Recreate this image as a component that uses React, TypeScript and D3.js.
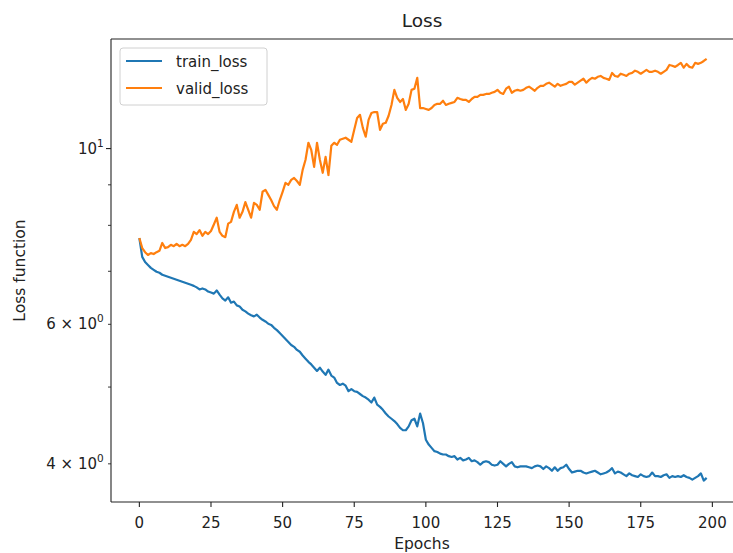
import React from 'react';
import * as d3 from 'd3';

// values (epochs 0..198)
const trainLoss = [
  7.71, 7.30, 7.19, 7.13, 7.07, 7.03, 6.99, 6.97, 6.93, 6.91,
  6.89, 6.87, 6.85, 6.83, 6.81, 6.79, 6.77, 6.75, 6.73, 6.71,
  6.68, 6.64, 6.66, 6.64, 6.60, 6.58, 6.56, 6.62, 6.54, 6.47,
  6.43, 6.49, 6.39, 6.41, 6.34, 6.32, 6.26, 6.23, 6.19, 6.16,
  6.14, 6.17, 6.12, 6.08, 6.05, 6.01, 5.99, 5.94, 5.90, 5.85,
  5.80, 5.75, 5.70, 5.65, 5.62, 5.57, 5.54, 5.48, 5.43, 5.38,
  5.34, 5.29, 5.24, 5.29, 5.23, 5.18, 5.26, 5.17, 5.14, 5.06,
  5.03, 5.05, 5.02, 4.94, 4.97, 4.94, 4.93, 4.90, 4.87, 4.85,
  4.82, 4.78, 4.85, 4.75, 4.72, 4.68, 4.63, 4.59, 4.56, 4.53,
  4.49, 4.44, 4.41, 4.41, 4.46, 4.54, 4.56, 4.46, 4.63, 4.50,
  4.29, 4.23, 4.19, 4.15, 4.14, 4.12, 4.11, 4.11, 4.09, 4.08,
  4.09, 4.05, 4.07, 4.04, 4.05, 4.07, 4.03, 4.04, 4.02, 3.99,
  4.02, 4.03, 4.02, 3.99, 3.98, 3.99, 4.03, 4.00, 3.97, 4.00,
  4.02, 3.97, 3.96, 3.97, 3.97, 3.97, 3.96, 3.95, 3.97, 3.98,
  3.97, 3.94, 3.97, 3.95, 3.92, 3.96, 3.92, 3.95, 3.96, 3.99,
  3.94, 3.90, 3.91, 3.92, 3.92, 3.90, 3.89, 3.90, 3.91, 3.92,
  3.90, 3.88, 3.89, 3.90, 3.92, 3.95, 3.89, 3.91, 3.90, 3.88,
  3.86, 3.89, 3.87, 3.86, 3.85, 3.88, 3.86, 3.85, 3.86, 3.90,
  3.86, 3.86, 3.85, 3.87, 3.88, 3.84, 3.86, 3.85, 3.86, 3.85,
  3.87, 3.85, 3.84, 3.82, 3.84, 3.86, 3.89, 3.81, 3.84,
];

const validLoss = [
  7.71, 7.49, 7.40, 7.34, 7.38, 7.36, 7.40, 7.43, 7.60, 7.49,
  7.51, 7.56, 7.53, 7.58, 7.53, 7.56, 7.53, 7.58, 7.67, 7.85,
  7.80, 7.89, 7.76, 7.85, 7.80, 7.87, 8.02, 8.18, 7.85, 7.76,
  7.73, 8.04, 8.08, 8.32, 8.49, 8.18, 8.32, 8.56, 8.37, 8.18,
  8.54, 8.49, 8.37, 8.82, 8.87, 8.74, 8.61, 8.46, 8.37, 8.61,
  8.82, 9.05, 9.00, 9.13, 9.18, 9.10, 9.00, 9.40, 9.68, 10.17,
  9.96, 9.48, 10.17, 9.68, 9.32, 9.76, 9.26, 10.08, 10.17, 10.11,
  10.26, 10.29, 10.32, 10.26, 10.20, 10.56, 10.93, 11.03, 10.62, 10.35,
  10.87, 11.09, 11.12, 11.12, 10.56, 10.75, 10.78, 11.00, 11.35, 11.86,
  11.59, 11.45, 11.55, 11.19, 11.39, 11.86, 11.90, 12.28, 11.25, 11.25,
  11.22, 11.19, 11.25, 11.35, 11.39, 11.39, 11.49, 11.35, 11.39, 11.42,
  11.45, 11.59, 11.55, 11.52, 11.52, 11.45, 11.55, 11.62, 11.62, 11.69,
  11.69, 11.72, 11.72, 11.76, 11.79, 11.86, 11.76, 11.72, 11.90, 11.97,
  11.76, 11.83, 11.86, 11.83, 11.86, 11.93, 11.97, 11.90, 11.83, 11.93,
  12.00, 12.00, 12.07, 12.11, 12.04, 11.97, 12.07, 12.00, 12.04, 12.07,
  12.14, 12.14, 12.04, 12.11, 12.18, 12.25, 12.11, 12.21, 12.28, 12.25,
  12.32, 12.35, 12.28, 12.25, 12.21, 12.46, 12.35, 12.32, 12.43, 12.39,
  12.35, 12.43, 12.46, 12.54, 12.50, 12.43, 12.50, 12.57, 12.50, 12.50,
  12.54, 12.50, 12.43, 12.50, 12.57, 12.75, 12.72, 12.68, 12.75, 12.83,
  12.65, 12.79, 12.68, 12.65, 12.83, 12.79, 12.83, 12.90, 12.98,
];

const seriesNames = ['train_loss', 'valid_loss'];
const seriesColors = ['#1f77b4', '#ff7f0e'];
const xTicks = [0, 25, 50, 75, 100, 125, 150, 175, 200];
const yMajorTicks = [10];
const yMinorTicks = [4, 5, 6, 7, 8, 9];
const yMinorLabels = [4, 6];

const W = 733;
const H = 553;
const FONT = 'DejaVu Sans, sans-serif';

export default function App() {
  const n = trainLoss.length;
  const pad = (n - 1) * 0.05;
  // right spine falls just past the picture's edge, as in the reference crop
  const x = d3.scaleLinear().domain([-pad, n - 1 + pad]).range([111, 735]);
  const y = d3.scaleLog().domain([3.58, 13.75]).range([502, 39]);

  const line = d3.line<number>()
    .x((_, i) => x(i))
    .y(d => y(d));

  const left = x.range()[0];
  const right = x.range()[1];
  const top = y.range()[1];
  const bottom = y.range()[0];

  return (
    <svg width={W} height={H} style={{ position: 'absolute', left: 0, top: 0, background: '#fff' }} fontFamily={FONT}>
      <rect width={W} height={H} fill="#fff" />

      {[trainLoss, validLoss].map((s, k) => (
        <path key={k} d={line(s) || ''} fill="none" stroke={seriesColors[k]} strokeWidth={2.2} strokeLinejoin="round" />
      ))}

      {/* spines */}
      <line x1={left} x2={left} y1={top} y2={bottom} stroke="#222" strokeWidth={1.1} />
      <line x1={left} x2={right} y1={bottom} y2={bottom} stroke="#222" strokeWidth={1.1} />
      <line x1={left} x2={right} y1={top} y2={top} stroke="#222" strokeWidth={1.1} />

      {/* x axis */}
      {xTicks.map(t => (
        <g key={t} transform={`translate(${x(t)},${bottom})`}>
          <line y2={5} stroke="#222" strokeWidth={1.1} />
          <text y={26} textAnchor="middle" fontSize={15} fill="#222">{t}</text>
        </g>
      ))}
      <text x={(left + right) / 2 - 1} y={549} textAnchor="middle" fontSize={15.5} fill="#222">Epochs</text>

      {/* y axis */}
      {yMajorTicks.map(t => (
        <g key={t} transform={`translate(${left},${y(t)})`}>
          <line x2={-5} stroke="#222" strokeWidth={1.1} />
          <text x={-14} y={5} textAnchor="end" fontSize={15} fill="#222">10</text>
          <text x={-14} y={-2} fontSize={10.5} fill="#222">1</text>
        </g>
      ))}
      {yMinorTicks.map(t => (
        <g key={t} transform={`translate(${left},${y(t)})`}>
          <line x2={-3} stroke="#222" strokeWidth={0.9} />
          {yMinorLabels.includes(t) && (
            <>
              <text x={-14} y={5} textAnchor="end" fontSize={15} fill="#222">{`${t} × 10`}</text>
              <text x={-14} y={-2} fontSize={10.5} fill="#222">0</text>
            </>
          )}
        </g>
      ))}
      <text transform={`translate(25,${(top + bottom) / 2}) rotate(-90)`} textAnchor="middle" fontSize={15.5} fill="#222">Loss function</text>

      {/* title */}
      <text x={(left + right) / 2 - 1} y={27} textAnchor="middle" fontSize={18.5} fill="#222">Loss</text>

      {/* legend */}
      <rect x={120} y={48} width={147} height={57} rx={3} fill="#fff" fillOpacity={0.8} stroke="#d0d0d0" strokeWidth={1} />
      {seriesNames.map((name, k) => (
        <g key={name} transform={`translate(126,${61 + k * 27})`}>
          <line x2={36} stroke={seriesColors[k]} strokeWidth={2.2} />
          <text x={50} y={5.5} fontSize={15} fill="#222">{name}</text>
        </g>
      ))}
    </svg>
  );
}
